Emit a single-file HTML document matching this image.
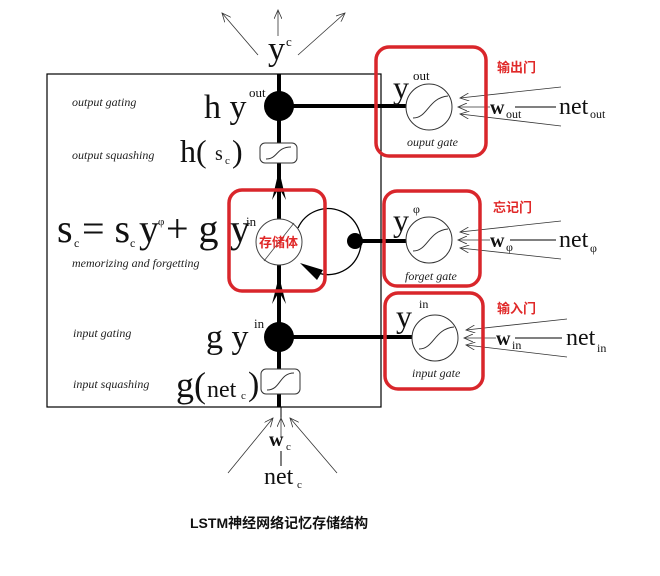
<!DOCTYPE html>
<html><head><meta charset="utf-8"><style>
html,body{margin:0;padding:0;background:#fff;}
svg{display:block;}
.t{font-family:"Liberation Serif",serif;fill:#111;}
.i{font-family:"Liberation Serif",serif;font-style:italic;font-size:12px;fill:#222;}
.r{font-family:"Liberation Sans","Noto Sans CJK SC",sans-serif;font-weight:bold;fill:#e02828;font-size:13px;}
</style></head><body>
<svg width="660" height="576" viewBox="0 0 660 576" xmlns="http://www.w3.org/2000/svg">
<defs>
<marker id="oa" markerWidth="10" markerHeight="8" refX="9" refY="4" orient="auto" markerUnits="userSpaceOnUse"><path d="M0,0 L9,4 L0,8" fill="none" stroke="#333" stroke-width="0.8"/></marker>
</defs>
<rect x="47" y="74" width="334" height="333" fill="none" stroke="#000" stroke-width="1.2"/>
<text class="t" x="268" y="60" font-size="34">y</text><text class="t" x="286" y="46" font-size="13">c</text>
<line x1="258" y1="55" x2="222" y2="13" stroke="#333" stroke-width="0.8" marker-end="url(#oa)"/>
<line x1="278" y1="36" x2="278" y2="10" stroke="#333" stroke-width="0.8" marker-end="url(#oa)"/>
<line x1="298" y1="55" x2="345" y2="13" stroke="#333" stroke-width="0.8" marker-end="url(#oa)"/>
<line x1="279" y1="74" x2="279" y2="407" stroke="#000" stroke-width="4"/>
<line x1="281" y1="407" x2="281" y2="418" stroke="#000" stroke-width="1"/>
<circle cx="279" cy="106" r="15" fill="#000"/>
<line x1="279" y1="106" x2="406" y2="106" stroke="#000" stroke-width="4"/>
<rect x="260" y="143" width="37" height="20" rx="5" fill="#fff" stroke="#333" stroke-width="1"/>
<path d="M266,159 C278,159 276,147 291,147" fill="none" stroke="#333"/>
<rect x="261" y="369" width="39" height="25" rx="5" fill="#fff" stroke="#333" stroke-width="1"/>
<path d="M267,390 C281,390 279,373 294,373" fill="none" stroke="#333"/>
<path d="M272,200 L279,170 L286,200 L279,188 Z" fill="#000"/>
<path d="M272,304 L279,276 L286,304 L279,292 Z" fill="#000"/>
<circle cx="279" cy="242" r="23" fill="#fff" stroke="#444" stroke-width="1"/>
<line x1="264" y1="261" x2="294" y2="223" stroke="#444" stroke-width="0.8"/>
<path d="M298,228 A33,33 0 1 1 318,273" fill="none" stroke="#000" stroke-width="1.3"/>
<path d="M300,263 L323,270 L317,280 Z" fill="#000"/>
<circle cx="355" cy="241" r="8" fill="#000"/>
<line x1="355" y1="241" x2="407" y2="241" stroke="#000" stroke-width="4"/>
<circle cx="279" cy="337" r="15" fill="#000"/>
<line x1="279" y1="337" x2="412" y2="337" stroke="#000" stroke-width="4"/>
<text class="i" x="72" y="106">output gating</text>
<text class="i" x="72" y="159">output squashing</text>
<text class="i" x="72" y="267">memorizing and forgetting</text>
<text class="i" x="73" y="337">input gating</text>
<text class="i" x="73" y="388">input squashing</text>
<text class="t" x="204" y="118" font-size="34">h y</text><text class="t" x="249" y="97" font-size="13">out</text>
<text class="t" x="180" y="162" font-size="32">h(</text><text class="t" x="215" y="160" font-size="20">s</text><text class="t" x="225" y="164" font-size="11">c</text><text class="t" x="232" y="162" font-size="32">)</text>
<text class="t" x="57" y="242" font-size="40">s</text><text class="t" x="74" y="247" font-size="12">c</text>
<text class="t" x="82" y="242" font-size="40">= s</text><text class="t" x="130" y="247" font-size="12">c</text>
<text class="t" x="139" y="242" font-size="40">y</text><text class="t" x="158" y="225" font-size="11">φ</text>
<text class="t" x="166" y="242" font-size="40">+ g</text><text class="t" x="230" y="242" font-size="40">y</text><text class="t" x="246" y="226" font-size="13">in</text>
<text class="t" x="206" y="348" font-size="34">g y</text><text class="t" x="254" y="328" font-size="13">in</text>
<text class="t" x="176" y="397" font-size="36">g(</text><text class="t" x="207" y="397" font-size="24">net</text><text class="t" x="241" y="399" font-size="11">c</text><text class="t" x="248" y="395" font-size="34">)</text>
<line x1="228" y1="473" x2="273" y2="418" stroke="#333" stroke-width="0.8" marker-end="url(#oa)"/>
<line x1="281" y1="438" x2="281" y2="418" stroke="#333" stroke-width="0.8" marker-end="url(#oa)"/>
<line x1="337" y1="473" x2="290" y2="418" stroke="#333" stroke-width="0.8" marker-end="url(#oa)"/>
<text class="t" x="269" y="446" font-size="20" font-weight="bold">w</text><text class="t" x="286" y="450" font-size="11">c</text>
<line x1="281" y1="451" x2="281" y2="466" stroke="#000" stroke-width="1"/>
<text class="t" x="264" y="484" font-size="24">net</text><text class="t" x="297" y="488" font-size="11">c</text>
<g>
<circle cx="429" cy="107" r="23" fill="#fff" stroke="#333"/>
<path d="M413,118 C428,118 428,98 448,96" fill="none" stroke="#333"/>
<text class="t" x="393" y="98" font-size="32">y</text><text class="t" x="413" y="80" font-size="13">out</text>
<text class="i" x="407" y="146" font-size="10">ouput gate</text>
<line x1="561" y1="87" x2="460" y2="98" stroke="#333" stroke-width="0.8" marker-end="url(#oa)"/>
<line x1="490" y1="107" x2="458" y2="107" stroke="#333" stroke-width="0.8" marker-end="url(#oa)"/>
<line x1="561" y1="126" x2="460" y2="114" stroke="#333" stroke-width="0.8" marker-end="url(#oa)"/>
<line x1="515" y1="107" x2="556" y2="107" stroke="#000" stroke-width="1"/>
<text class="t" x="490" y="114" font-size="20" font-weight="bold">w</text><text class="t" x="506" y="118" font-size="12">out</text>
<text class="t" x="559" y="114" font-size="24">net</text><text class="t" x="590" y="118" font-size="12">out</text>
</g>
<g>
<circle cx="429" cy="240" r="23" fill="#fff" stroke="#333"/>
<path d="M413,251 C428,251 428,231 448,229" fill="none" stroke="#333"/>
<text class="t" x="393" y="231" font-size="32">y</text><text class="t" x="413" y="213" font-size="12">φ</text>
<text class="i" x="405" y="280" font-size="11">forget gate</text>
<line x1="561" y1="221" x2="460" y2="232" stroke="#333" stroke-width="0.8" marker-end="url(#oa)"/>
<line x1="490" y1="240" x2="458" y2="240" stroke="#333" stroke-width="0.8" marker-end="url(#oa)"/>
<line x1="561" y1="259" x2="460" y2="248" stroke="#333" stroke-width="0.8" marker-end="url(#oa)"/>
<line x1="510" y1="240" x2="556" y2="240" stroke="#000" stroke-width="1"/>
<text class="t" x="490" y="247" font-size="20" font-weight="bold">w</text><text class="t" x="506" y="251" font-size="12">φ</text>
<text class="t" x="559" y="247" font-size="24">net</text><text class="t" x="590" y="252" font-size="12">φ</text>
</g>
<g>
<circle cx="435" cy="338" r="23" fill="#fff" stroke="#333"/>
<path d="M419,349 C434,349 434,329 454,327" fill="none" stroke="#333"/>
<text class="t" x="396" y="327" font-size="32">y</text><text class="t" x="419" y="308" font-size="12">in</text>
<text class="i" x="412" y="377" font-size="11">input gate</text>
<line x1="567" y1="319" x2="466" y2="330" stroke="#333" stroke-width="0.8" marker-end="url(#oa)"/>
<line x1="496" y1="338" x2="464" y2="338" stroke="#333" stroke-width="0.8" marker-end="url(#oa)"/>
<line x1="567" y1="357" x2="466" y2="345" stroke="#333" stroke-width="0.8" marker-end="url(#oa)"/>
<line x1="515" y1="338" x2="562" y2="338" stroke="#000" stroke-width="1"/>
<text class="t" x="496" y="345" font-size="20" font-weight="bold">w</text><text class="t" x="512" y="349" font-size="12">in</text>
<text class="t" x="566" y="345" font-size="24">net</text><text class="t" x="597" y="352" font-size="12">in</text>
</g>
<rect x="376" y="47" width="110" height="109" rx="13" fill="none" stroke="#d9262b" stroke-width="3.5"/>
<rect x="384" y="191" width="96" height="95" rx="13" fill="none" stroke="#d9262b" stroke-width="3.5"/>
<rect x="385" y="293" width="98" height="96" rx="13" fill="none" stroke="#d9262b" stroke-width="3.5"/>
<rect x="229" y="190" width="96" height="101" rx="13" fill="none" stroke="#d9262b" stroke-width="3.5"/>
<text class="r" x="259" y="247" font-size="13">存储体</text>
<text class="r" x="497" y="72">输出门</text>
<text class="r" x="493" y="212">忘记门</text>
<text class="r" x="497" y="313">输入门</text>
<text x="190" y="528" font-family="'Liberation Sans','Noto Sans CJK SC',sans-serif" font-weight="bold" font-size="14" fill="#111">LSTM神经网络记忆存储结构</text>
</svg>
</body></html>
